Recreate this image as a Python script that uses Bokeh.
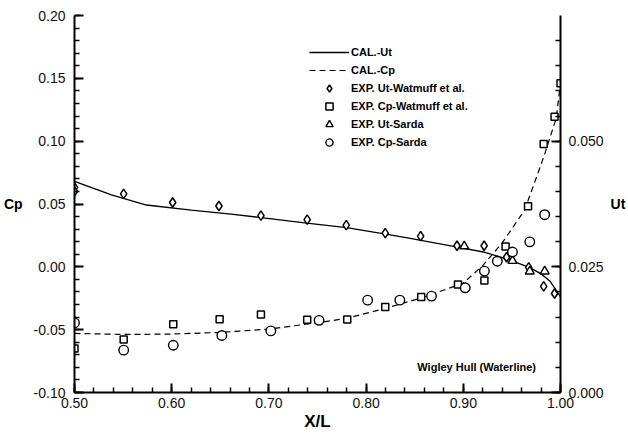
from bokeh.plotting import figure
from bokeh.models import (LinearAxis, Range1d, SingleIntervalTicker, PrintfTickFormatter,
                          Legend, LegendItem, Label)
from bokeh.embed import file_html
from bokeh.resources import INLINE

# ---------------- data ----------------
# calculated tangential velocity Ut (right axis)
cal_ut_x = [0.500, 0.538, 0.574, 0.620, 0.661, 0.692, 0.739, 0.780, 0.820, 0.844,
            0.894, 0.922, 0.936, 0.950, 0.968, 0.980, 0.989, 0.997, 1.000]
cal_ut = [0.0420, 0.0393, 0.0373, 0.0363, 0.0355, 0.0348, 0.0337, 0.0328, 0.0315, 0.0307,
          0.0289, 0.0279, 0.0271, 0.0262, 0.0249, 0.0236, 0.0222, 0.0199, 0.0190]

# calculated pressure coefficient Cp (left axis)
cal_cp_x = [0.500, 0.550, 0.600, 0.650, 0.700, 0.750, 0.780, 0.820, 0.860, 0.900,
            0.920, 0.940, 0.955, 0.963, 0.970, 0.977, 0.983, 0.988, 0.9955, 1.000]
cal_cp = [-0.0530, -0.0538, -0.0535, -0.0522, -0.0495, -0.0445, -0.0410, -0.0330, -0.0240, -0.0130,
          0.0010, 0.0190, 0.0360, 0.0450, 0.0600, 0.0750, 0.0880, 0.1000, 0.1180, 0.1460]

# EXP. Ut - Watmuff et al. (right axis)
exp_ut_wat_x = [0.500, 0.500, 0.5506, 0.601, 0.6486, 0.6918, 0.7394, 0.7796, 0.8197, 0.8561,
                0.8935, 0.9214, 0.9445, 0.9673, 0.9827, 0.9939]
exp_ut_wat = [0.0408, 0.0400, 0.0395, 0.0378, 0.0371, 0.0352, 0.0344, 0.0333, 0.0317, 0.0311,
              0.0292, 0.0292, 0.0269, 0.0249, 0.0211, 0.0197]

# EXP. Cp - Watmuff et al. (left axis)
exp_cp_wat_x = [0.500, 0.5506, 0.6016, 0.6493, 0.6918, 0.7394, 0.7806, 0.8197, 0.8567, 0.8945,
                0.9217, 0.9435, 0.9666, 0.9827, 0.9939, 1.000]
exp_cp_wat = [-0.0650, -0.0578, -0.0456, -0.0417, -0.0379, -0.0422, -0.0419, -0.0319, -0.0241, -0.0140,
              -0.0108, 0.0162, 0.0483, 0.0977, 0.1194, 0.1460]

# EXP. Ut - Sarda (right axis)
exp_ut_sarda_x = [0.901, 0.9506, 0.9684, 0.9837]
exp_ut_sarda = [0.0291, 0.0262, 0.0241, 0.0241]

# EXP. Cp - Sarda (left axis)
exp_cp_sarda_x = [0.500, 0.5506, 0.6016, 0.6516, 0.702, 0.7516, 0.8016, 0.8347, 0.8673, 0.902,
                  0.9217, 0.935, 0.9506, 0.9684, 0.9837]
exp_cp_sarda = [-0.0446, -0.0663, -0.0624, -0.0546, -0.0510, -0.0426, -0.0265, -0.0265, -0.0233, -0.0167,
                -0.0034, 0.0045, 0.0118, 0.0199, 0.0415]

FONT = "Liberation Sans"

p = figure(width=628, height=436, output_backend="svg", toolbar_location=None,
           x_range=Range1d(0.5, 1.0), y_range=Range1d(-0.10, 0.20),
           min_border_left=73, min_border_right=65, min_border_top=15, min_border_bottom=44)
p.extra_y_ranges = {"ut": Range1d(0.0, 0.075)}
p.xgrid.visible = False
p.ygrid.visible = False
p.outline_line_color = None
p.background_fill_color = "white"
p.border_fill_color = "white"

right_axis = LinearAxis(y_range_name="ut")
p.add_layout(right_axis, "right")

p.xaxis[0].ticker = SingleIntervalTicker(interval=0.1, num_minor_ticks=5)
p.xaxis[0].formatter = PrintfTickFormatter(format="%.2f")
p.yaxis[0].ticker = SingleIntervalTicker(interval=0.05, num_minor_ticks=5)
p.yaxis[0].formatter = PrintfTickFormatter(format="%.2f")
right_axis.ticker = SingleIntervalTicker(interval=0.025, num_minor_ticks=5)
right_axis.formatter = PrintfTickFormatter(format="%.3f")

for ax in [p.xaxis[0], p.yaxis[0], right_axis]:
    ax.axis_line_width = 2
    ax.axis_line_color = "black"
    ax.major_tick_in = 9
    ax.major_tick_out = 0
    ax.minor_tick_in = 5
    ax.minor_tick_out = 0
    ax.major_tick_line_width = 2
    ax.minor_tick_line_width = 1.5
    ax.major_tick_line_color = "black"
    ax.minor_tick_line_color = "black"
    ax.major_label_text_font = FONT
    ax.major_label_text_font_size = "14px"
    ax.major_label_text_color = "#111111"
    ax.axis_label_text_font = FONT
    ax.axis_label_text_font_style = "bold"
    ax.axis_label_text_color = "black"
    ax.axis_label_text_font_size = "14px"

p.yaxis[0].axis_label = "Cp"
p.yaxis[0].axis_label_orientation = "horizontal"
p.yaxis[0].axis_label_standoff = 8
p.yaxis[0].major_label_standoff = 9

right_axis.axis_label = "Ut"
right_axis.axis_label_orientation = "horizontal"
right_axis.axis_label_standoff = 4
right_axis.major_label_standoff = 8

p.xaxis[0].axis_label = "X/L"
p.xaxis[0].axis_label_text_font_size = "17px"
p.xaxis[0].axis_label_standoff = 1
p.xaxis[0].major_label_standoff = 5

# curves
r_ut = p.line(cal_ut_x, cal_ut, y_range_name="ut", line_color="black", line_width=1.3)
r_cp = p.line(cal_cp_x, cal_cp, line_color="black", line_width=1.2, line_dash="6 4")

r_d = p.scatter(exp_ut_wat_x, exp_ut_wat, y_range_name="ut", marker="diamond",
                size=9.5, fill_color="white", line_color="black", line_width=1.5)
r_s = p.scatter(exp_cp_wat_x, exp_cp_wat, marker="square", size=7,
                fill_color="white", line_color="black", line_width=1.5)
r_t = p.scatter(exp_ut_sarda_x, exp_ut_sarda, y_range_name="ut", marker="triangle", size=9,
                fill_color="white", line_color="black", line_width=1.4)
r_c = p.scatter(exp_cp_sarda_x, exp_cp_sarda, marker="circle", size=9.5,
                fill_color="white", line_color="black", line_width=1.4)

legend = Legend(items=[
    LegendItem(label="CAL.-Ut", renderers=[r_ut]),
    LegendItem(label="CAL.-Cp", renderers=[r_cp]),
    LegendItem(label="EXP. Ut-Watmuff et al.", renderers=[r_d]),
    LegendItem(label="EXP. Cp-Watmuff et al.", renderers=[r_s]),
    LegendItem(label="EXP. Ut-Sarda", renderers=[r_t]),
    LegendItem(label="EXP. Cp-Sarda", renderers=[r_c]),
], location=(235, 241), label_text_font=FONT, label_text_font_style="bold",
    label_text_font_size="11px", label_text_color="black", glyph_width=40, glyph_height=18,
    label_height=18, label_standoff=2, spacing=0, padding=0, margin=0, border_line_color=None,
    background_fill_alpha=0)
p.add_layout(legend)

# text annotation inside the frame
p.add_layout(Label(x=0.9748, y=-0.0796, text="Wigley Hull (Waterline)", text_align="right",
                   text_baseline="middle", text_font=FONT, text_font_style="bold",
                   text_font_size="11px", text_color="black"))

open("out.html", "w").write(file_html(p, INLINE))
